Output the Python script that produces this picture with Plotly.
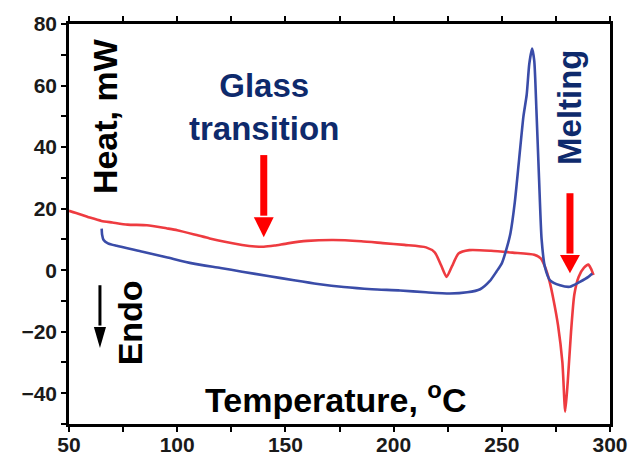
import plotly.graph_objects as go

# ---- data ----
red_T = [50, 55, 60, 65, 70, 77, 86, 95, 100, 108, 115, 122, 130, 136, 140, 145, 151, 160, 172, 185,
         195, 205, 215, 219, 222, 224.5, 227, 230, 235, 245, 255, 265, 268, 270, 272, 274, 276, 278,
         279.3, 280.5, 282, 283.5, 285.5, 288, 290, 291.2, 292.4]
red_Q = [19.3, 18.2, 17.0, 16.0, 15.5, 14.8, 14.6, 13.6, 13.0, 11.6, 10.3, 9.2, 8.2, 7.7, 7.6, 8.0,
         8.7, 9.5, 9.8, 9.4, 8.8, 8.2, 7.4, 5.8, 1.5, -2.2, 1.3, 5.4, 6.5, 6.3, 5.7, 5.0, 3.8, 1.0,
         -3.5, -10, -18, -30, -46, -36, -20, -8, -2.2, 0.8, 1.8, 0.5, -1.6]

blue_T = [65.1, 65.3, 66, 68, 72, 84, 95, 107, 120, 130, 142, 154, 165, 177, 190, 203, 215, 226, 234,
          240, 244.5, 247.5, 250, 252, 254, 256, 258, 260, 261.5, 262.7, 264, 265, 266, 267.2, 268.4,
          269.9, 272.3, 276.9, 281.5, 286.1, 290, 291.8]
blue_Q = [13.5, 11.5, 9.8, 8.7, 7.9, 6.0, 4.2, 2.2, 0.7, -0.5, -1.9, -3.3, -4.5, -5.5, -6.2, -6.6,
          -7.2, -7.6, -7.2, -6.2, -3.5, -0.5, 2.2, 6.5, 12, 22, 36, 50, 57, 67, 72, 68, 52, 30, 10,
          1.1, -3.3, -4.9, -5.4, -3.8, -2.2, -1.1]

x_ticks = [50, 100, 150, 200, 250, 300]
y_ticks = [-40, -20, 0, 20, 40, 60, 80]

RED_LINE = "#EE3B40"
BLUE_LINE = "#3A4CA8"
NAVY = "#0E2A6C"
ARROW_RED = "#FF0000"

fig = go.Figure()
fig.add_trace(go.Scatter(x=red_T, y=red_Q, mode="lines",
                         line=dict(color=RED_LINE, width=2.6, shape="spline", smoothing=0.6),
                         showlegend=False))
fig.add_trace(go.Scatter(x=blue_T, y=blue_Q, mode="lines",
                         line=dict(color=BLUE_LINE, width=2.6, shape="spline", smoothing=0.6),
                         showlegend=False))

# arrows (shaft + head)
def arrow(x, y_top, y_base, y_tip, half_w, shaft_w, color):
    fig.add_shape(type="line", xref="x", yref="y", x0=x, x1=x, y0=y_top, y1=y_base + 0.5,
                  line=dict(color=color, width=shaft_w))
    fig.add_shape(type="path", xref="x", yref="y",
                  path=f"M {x - half_w},{y_base} L {x + half_w},{y_base} L {x},{y_tip} Z",
                  fillcolor=color, line=dict(color=color, width=0))

arrow(140, 37.4, 17.2, 10.7, 4.6, 7, ARROW_RED)
arrow(281.5, 25, 4.9, -1, 4.6, 7, ARROW_RED)
arrow(64.3, -4.9, -18.5, -25.3, 2.8, 3, "black")

FONT = "Liberation Sans, Arial, sans-serif"
def label(text, x, y, color, angle=0, size=34):
    fig.add_annotation(text=text, x=x, y=y, xref="x", yref="y", showarrow=False,
                       textangle=angle, xanchor="center", yanchor="middle",
                       font=dict(family=FONT, size=size, color=color, weight="bold"))

label("Heat, mW", 67, 50, "black", angle=-90)
label("Endo", 78.6, -17, "black", angle=-90)
label("Temperature, <sup>o</sup>C", 173, -41.3, "black")
label("Glass<br>transition", 140, 53, NAVY, size=33)
label("Melting", 281, 53, NAVY, angle=-90, size=33)

tickfont = dict(family=FONT, size=21, color="#1a1a1a", weight="bold")
fig.update_xaxes(range=[50, 300], tickvals=x_ticks, ticks="outside", ticklen=5, tickwidth=2,
                 tickcolor="black", showline=True, linecolor="black", linewidth=2.5,
                 mirror="ticks", showgrid=False, zeroline=False, tickfont=tickfont,
                 automargin=False, ticklabelstandoff=-5,
                 minor=dict(dtick=25, ticks="outside", ticklen=5, tickwidth=2, tickcolor="black",
                            showgrid=False))
fig.update_yaxes(range=[-50, 80], tickvals=y_ticks, ticks="outside", ticklen=5, tickwidth=2,
                 tickcolor="black", showline=True, linecolor="black", linewidth=2.5,
                 mirror=True, showgrid=False, zeroline=False, tickfont=tickfont,
                 automargin=False,
                 minor=dict(dtick=10, ticks="outside", ticklen=5, tickwidth=2, tickcolor="black",
                            showgrid=False))

fig.update_layout(width=634, height=457, margin=dict(l=69, r=24, t=24, b=33),
                  paper_bgcolor="white", plot_bgcolor="white")
fig.write_html("out.html")
